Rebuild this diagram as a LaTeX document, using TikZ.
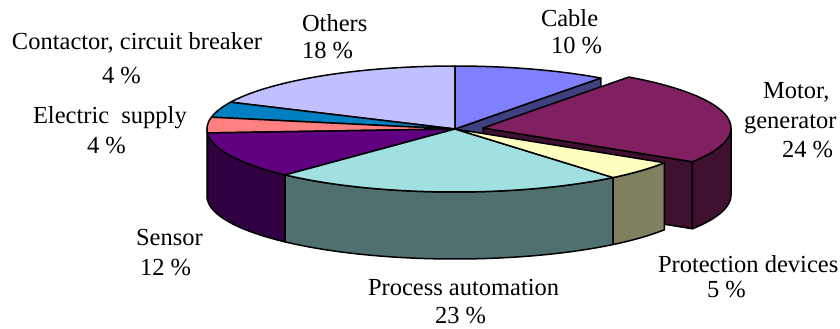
\documentclass[tikz,border=0pt]{standalone}
\usepackage{fontspec}
\setmainfont{Liberation Serif}

% pie geometry (pt, y pointing down)
\def\pcx{455}\def\pcy{129}\def\prx{248}\def\pry{63}\def\pdh{67}

% top face of a slice: offset dx, dy, angles a1..a2, colour
\newcommand\pieTop[5]{%
  \filldraw[face, fill=#5] ({\pcx+#1},{\pcy+#2})
    -- plot[domain=#3:#4, samples=60, variable=\t]
       ({\pcx+#1+\prx*cos(\t)},{\pcy+#2-\pry*sin(\t)}) -- cycle;}
% outer wall of a slice between a1 and a2
\newcommand\pieSide[5]{%
  \filldraw[face, fill=#5]
    plot[domain=#3:#4, samples=60, variable=\t]
       ({\pcx+#1+\prx*cos(\t)},{\pcy+#2-\pry*sin(\t)})
    -- plot[domain=#4:#3, samples=60, variable=\t]
       ({\pcx+#1+\prx*cos(\t)},{\pcy+#2+\pdh-\pry*sin(\t)}) -- cycle;}
% radial cut wall of a slice at angle a
\newcommand\pieCut[4]{%
  \filldraw[face, fill=#4] ({\pcx+#1},{\pcy+#2})
    -- ({\pcx+#1+\prx*cos(#3)},{\pcy+#2-\pry*sin(#3)})
    -- ++(0,\pdh) -- ({\pcx+#1},{\pcy+#2+\pdh}) -- cycle;}

\definecolor{cable}{HTML}{8080FF}   \definecolor{cableside}{HTML}{404080}
\definecolor{motor}{HTML}{802060}   \definecolor{motorside}{HTML}{401030}
\definecolor{prot}{HTML}{FFFFC0}    \definecolor{protside}{HTML}{808060}
\definecolor{proc}{HTML}{A0E0E0}    \definecolor{procside}{HTML}{507070}
\definecolor{sensor}{HTML}{600080}  \definecolor{sensorside}{HTML}{300040}
\definecolor{supply}{HTML}{FF8080}  \definecolor{supplyside}{HTML}{804040}
\definecolor{contact}{HTML}{0080C0}
\definecolor{others}{HTML}{C0C0FF}

\begin{document}
\begin{tikzpicture}[x=1pt,y=-1pt,
  face/.style={draw=black, line width=1.5pt, line join=round},
  lbl/.style={inner sep=0pt, outer sep=0pt, anchor=base west,
              font=\fontsize{24.5}{27}\selectfont}]
\useasboundingbox (0,0) rectangle (840,329);

% walls revealed by the exploded motor slice
\pieCut{0}{0}{54}{cableside}
\pieCut{28}{-1}{-32.4}{motorside}
\pieSide{28}{-1}{-32.4}{0}{motorside}
\pieTop{28}{-1}{-32.4}{54}{motor}

% front walls of the main body
\pieSide{0}{0}{180}{183.6}{supplyside}
\pieSide{0}{0}{183.6}{226.8}{sensorside}
\pieSide{0}{0}{226.8}{309.6}{procside}
\pieSide{0}{0}{309.6}{327.6}{protside}

% top faces
\pieTop{0}{0}{90}{154.8}{others}
\pieTop{0}{0}{54}{90}{cable}
\pieTop{0}{0}{154.8}{169.2}{contact}
\pieTop{0}{0}{169.2}{183.6}{supply}
\pieTop{0}{0}{183.6}{226.8}{sensor}
\pieTop{0}{0}{226.8}{309.6}{proc}
\pieTop{0}{0}{309.6}{327.6}{prot}

% labels
\node[lbl] (cableA) at (541,27) {Cable};
\node[lbl] (cableB) at (551,54) {10 \%};
\node[lbl] (othersA) at (302,32) {Others};
\node[lbl] (othersB) at (302,59) {18 \%};
\node[lbl] (contA) at (12,49) {Contactor, circuit breaker};
\node[lbl] (contB) at (102,83) {4 \%};
\node[lbl] (suppA) at (33,123) {Electric\ \ supply};
\node[lbl] (suppB) at (87,153) {4 \%};
\node[lbl] (sensA) at (136,245) {Sensor};
\node[lbl] (sensB) at (140,275) {12 \%};
\node[lbl] (motA) at (763,98) {Motor,};
\node[lbl] (motB) at (744,128) {generator};
\node[lbl] (motC) at (782,157) {24 \%};
\node[lbl] (protA) at (658,272) {Protection devices};
\node[lbl] (protB) at (707,297) {5 \%};
\node[lbl] (procA) at (368,295) {Process automation};
\node[lbl] (procB) at (435,323) {23 \%};
\end{tikzpicture}
\end{document}
